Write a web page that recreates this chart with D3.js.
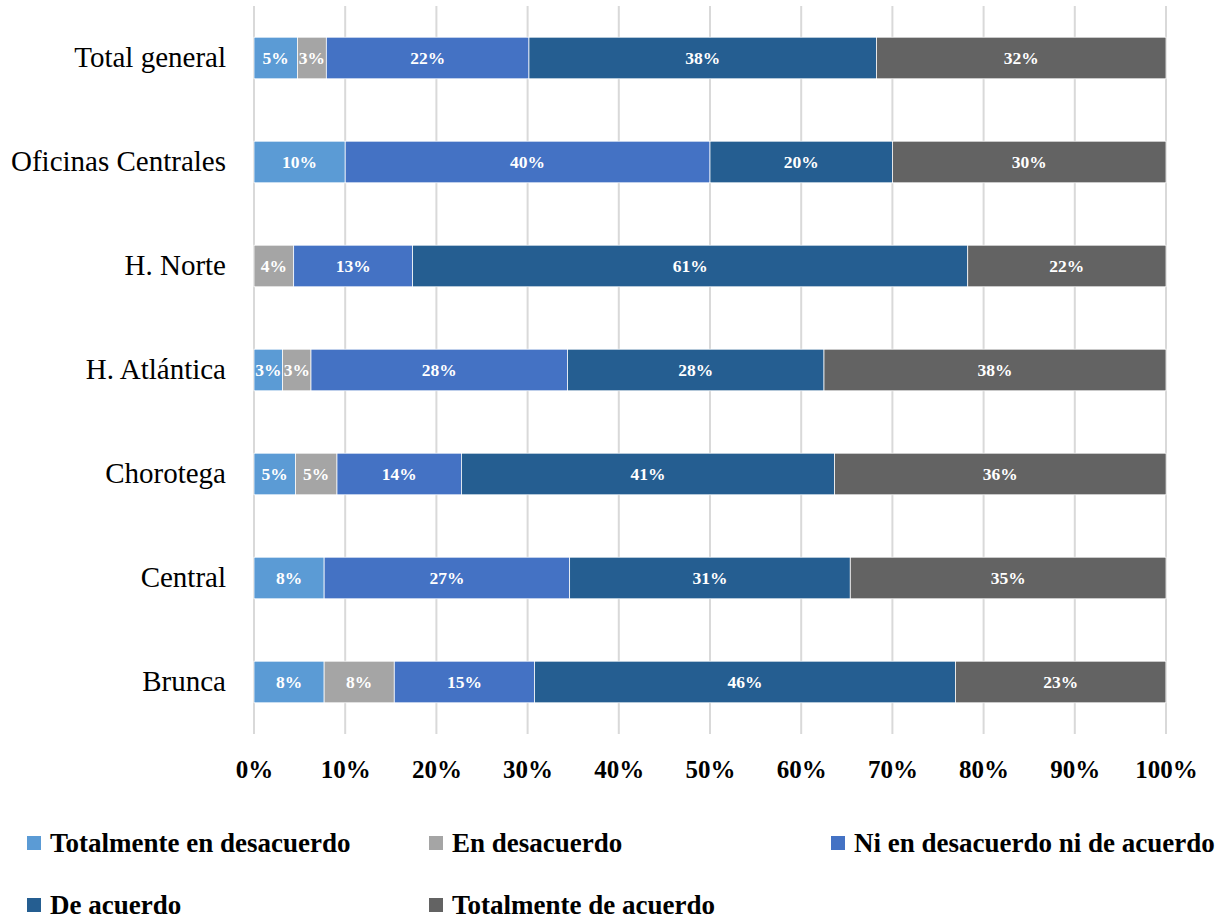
<!DOCTYPE html>
<html>
<head>
<meta charset="utf-8">
<script src="https://cdn.jsdelivr.net/npm/d3@7"></script>
<style>
  html, body { margin: 0; padding: 0; background: #fff; }
  svg { display: block; }
</style>
</head>
<body>
<svg id="chart" width="1225" height="922"></svg>
<script>
// ---- Data ----
const categories = ["Total general", "Oficinas Centrales", "H. Norte", "H. Atlántica", "Chorotega", "Central", "Brunca"];
const seriesNames = ["Totalmente en desacuerdo", "En desacuerdo", "Ni en desacuerdo ni de acuerdo", "De acuerdo", "Totalmente de acuerdo"];
const totalmenteDesacuerdo = [4.76, 10, 0, 3.125, 4.55, 7.69, 7.69];
const enDesacuerdo =         [3.17, 0, 4.35, 3.125, 4.55, 0, 7.69];
const niNi =                 [22.22, 40, 13.04, 28.125, 13.64, 26.92, 15.38];
const deAcuerdo =            [38.10, 20, 60.87, 28.125, 40.91, 30.77, 46.15];
const totalmenteAcuerdo =    [31.75, 30, 21.74, 37.5, 36.36, 34.62, 23.08];
const xTicks = [0, 10, 20, 30, 40, 50, 60, 70, 80, 90, 100];
const colors = ["#5B9BD5", "#A5A5A5", "#4472C4", "#255E91", "#636363"];

const seriesValues = [totalmenteDesacuerdo, enDesacuerdo, niNi, deAcuerdo, totalmenteAcuerdo];
const rows = categories.map((c, i) => {
  const r = { cat: c };
  seriesNames.forEach((s, j) => r[s] = seriesValues[j][i]);
  return r;
});

const svg = d3.select("#chart");
const serif = "'Liberation Serif', 'Times New Roman', serif";

const x = d3.scaleLinear().domain([0, 100]).range([254, 1166]);
const y = d3.scaleBand().domain(categories).range([6, 734]).paddingInner(0.6).paddingOuter(0.3);

// gridlines
svg.append("g").selectAll("line").data(xTicks).join("line")
  .attr("x1", d => x(d)).attr("x2", d => x(d))
  .attr("y1", 6).attr("y2", 734)
  .attr("stroke", "#d9d9d9").attr("stroke-width", 2);

// stacked bars
const stack = d3.stack().keys(seriesNames)(rows);
const layers = svg.append("g").selectAll("g").data(stack).join("g")
  .attr("fill", (d, i) => colors[i]);
layers.selectAll("rect").data(d => d.filter(p => p[1] - p[0] > 0)).join("rect")
  .attr("x", d => x(d[0]))
  .attr("width", d => x(d[1]) - x(d[0]))
  .attr("y", d => y(d.data.cat))
  .attr("height", y.bandwidth())
  .attr("stroke", "#ffffff").attr("stroke-width", 0.75);

// data labels
layers.selectAll("text").data(d => d.filter(p => p[1] - p[0] > 0)).join("text")
  .attr("x", d => (x(d[0]) + x(d[1])) / 2)
  .attr("y", d => y(d.data.cat) + y.bandwidth() / 2)
  .attr("dy", "0.35em")
  .attr("text-anchor", "middle")
  .attr("fill", "#ffffff")
  .attr("font-family", serif).attr("font-weight", "bold").attr("font-size", 17.5)
  .text(d => Math.round(d[1] - d[0]) + "%");

// y axis labels
const yAxis = d3.axisLeft(y).tickSize(0).tickPadding(28);
const gy = svg.append("g").attr("transform", `translate(${x(0)},0)`).call(yAxis);
gy.select(".domain").remove();
gy.selectAll("text").attr("font-family", serif).attr("font-size", 29).attr("fill", "#000");

// x axis labels
const xAxis = d3.axisBottom(x).tickValues(xTicks).tickSize(0).tickPadding(0).tickFormat(d => d + "%");
const gx = svg.append("g").attr("transform", `translate(0,760)`).call(xAxis);
gx.select(".domain").remove();
gx.selectAll("text").attr("font-family", serif).attr("font-weight", "bold").attr("font-size", 25).attr("fill", "#000");

// legend
const legendPos = [[27, 836], [429, 836], [831, 836], [27, 898], [429, 898]];
const lg = svg.append("g").selectAll("g").data(seriesNames).join("g")
  .attr("transform", (d, i) => `translate(${legendPos[i][0]},${legendPos[i][1]})`);
lg.append("rect").attr("width", 14).attr("height", 14).attr("fill", (d, i) => colors[i]);
lg.append("text").attr("x", 23).attr("y", 7).attr("dy", "0.35em")
  .attr("font-family", serif).attr("font-weight", "bold").attr("font-size", 27).attr("fill", "#000")
  .text(d => d);
</script>
</body>
</html>
